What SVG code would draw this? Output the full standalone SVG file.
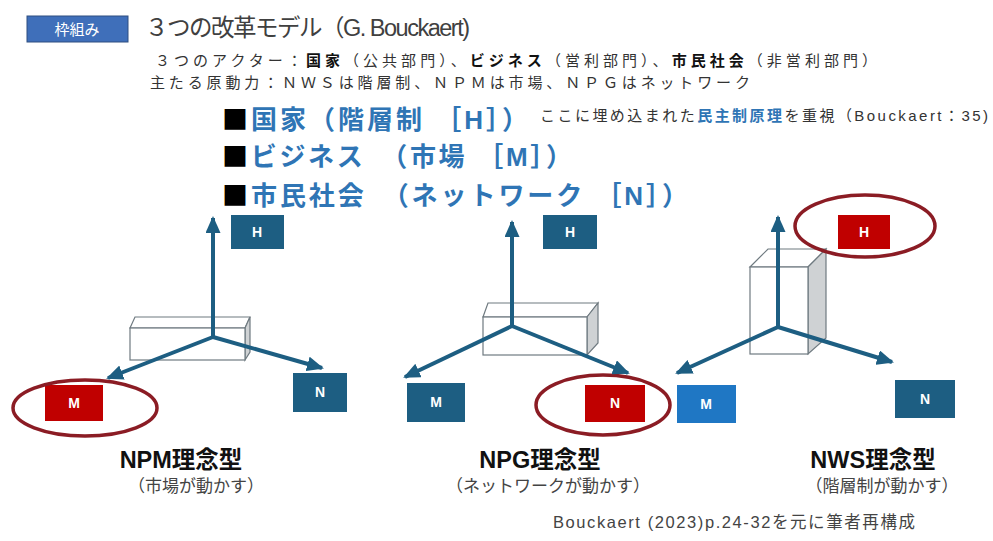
<svg xmlns="http://www.w3.org/2000/svg" width="993" height="541" viewBox="0 0 993 541">
<style>
.jp{font-family:"Liberation Sans","Noto Sans CJK JP",sans-serif}
.sq{font-family:"Noto Sans CJK JP",sans-serif;fill:#000}
.box{fill:#1d5e82}
.red{fill:#c00000}
.bl{font-family:"Liberation Sans","Noto Sans CJK JP",sans-serif;font-weight:bold;font-size:14px;fill:#fff;text-anchor:middle}
.ax{stroke:#1d5e82;stroke-width:4;fill:none;marker-end:url(#ah)}
.prism{fill:#fff;stroke:#6f7a80;stroke-width:1.2}
.side{fill:#cfd2d4;stroke:#6f7a80;stroke-width:1.2}
.ell{fill:none;stroke:#8b1c24;stroke-width:3.5}
.cap{font-family:"Liberation Sans","Noto Sans CJK JP",sans-serif;font-weight:bold;font-size:23.5px;fill:#111;text-anchor:middle}
.sub{font-family:"Liberation Sans","Noto Sans CJK JP",sans-serif;font-size:17px;fill:#444;text-anchor:middle}
.big{font-family:"Liberation Sans","Noto Sans CJK JP",sans-serif;font-weight:bold;font-size:26px;fill:#2f75b5}
</style>
<defs>
<marker id="ah" markerUnits="userSpaceOnUse" markerWidth="17" markerHeight="15" refX="15" refY="7.5" orient="auto">
<path d="M0,0 L17,7.5 L0,15 Z" fill="#1d5e82"/>
</marker>
</defs>
<rect width="993" height="541" fill="#fff"/>

<g id="header">
<rect x="27" y="16" width="101" height="26" fill="#3f6fba" stroke="#2f4f80" stroke-width="1"/>
<text x="77" y="35" class="jp" font-size="15" fill="#fff" text-anchor="middle">枠組み</text>
<text x="145" y="36" class="jp" font-size="23.5" fill="#404040" textLength="325" lengthAdjust="spacing">３つの改革モデル（G. Bouckaert)</text>
<text x="155" y="66" class="jp" font-size="15" fill="#333" textLength="722" lengthAdjust="spacing">３つのアクター：<tspan font-weight="bold" fill="#111">国家</tspan>（公共部門）、<tspan font-weight="bold" fill="#111">ビジネス</tspan>（営利部門）、<tspan font-weight="bold" fill="#111">市民社会</tspan>（非営利部門）</text>
<text x="150" y="88" class="jp" font-size="15" fill="#333" textLength="600" lengthAdjust="spacing">主たる原動力：ＮＷＳは階層制、ＮＰＭは市場、ＮＰＧはネットワーク</text>
</g>

<g id="bullets">
<text x="222" y="129" class="big" textLength="306" lengthAdjust="spacing"><tspan class="sq">■</tspan>国家（階層制 ［H］）</text>
<text x="540" y="121" class="jp" font-size="15" fill="#333" textLength="448" lengthAdjust="spacing">ここに埋め込まれた<tspan font-weight="bold" fill="#2f75b5">民主制原理</tspan>を重視（Bouckaert：35)</text>
<text x="222" y="166" class="big" textLength="350" lengthAdjust="spacing"><tspan class="sq">■</tspan>ビジネス　（市場 ［M］）</text>
<text x="222" y="205" class="big" textLength="466" lengthAdjust="spacing"><tspan class="sq">■</tspan>市民社会　（ネットワーク ［N］）</text>
</g>

<g id="npm">
<path class="prism" d="M130,328 L135,317 L250,317 L245,328 Z"/>
<path class="side" d="M245,328 L250,317 L250,352 L245,360 Z"/>
<rect class="prism" x="130" y="328" width="115" height="32"/>
<g id="npm-H"><rect class="box" x="231" y="215" width="53" height="34"/><text class="bl" x="257" y="237">H</text></g>
<g id="npm-M"><rect class="red" x="45" y="385" width="58" height="36"/><text class="bl" x="74" y="408">M</text></g>
<g id="npm-N"><rect class="box" x="293" y="373" width="54" height="39"/><text class="bl" x="320" y="397">N</text></g>
<ellipse class="ell" cx="85" cy="408" rx="72" ry="28"/>
<text class="cap" x="181" y="468">NPM理念型</text>
<text class="sub" x="196" y="492">（市場が動かす）</text>
</g>

<g id="npg">
<path class="prism" d="M483,317 L488,303 L598,303 L587,317 Z"/>
<path class="side" d="M587,317 L598,303 L598,343 L587,355 Z"/>
<rect class="prism" x="483" y="317" width="104" height="38"/>
<g id="npg-H"><rect class="box" x="543" y="215" width="54" height="34"/><text class="bl" x="570" y="237">H</text></g>
<g id="npg-M"><rect class="box" x="407" y="383" width="58" height="39"/><text class="bl" x="436" y="407">M</text></g>
<g id="npg-N"><rect class="red" x="585" y="385" width="60" height="37"/><text class="bl" x="615" y="408">N</text></g>
<ellipse class="ell" cx="603" cy="405" rx="67" ry="30"/>
<text class="cap" x="540" y="468">NPG理念型</text>
<text class="sub" x="548" y="492">（ネットワークが動かす）</text>
</g>

<g id="nws">
<path class="prism" d="M750,267 L768,249 L826,249 L808,267 Z"/>
<path class="side" d="M808,267 L826,249 L826,338 L808,354 Z"/>
<rect class="prism" x="750" y="267" width="58" height="87"/>
<g id="nws-H"><rect class="red" x="838" y="215" width="52" height="34"/><text class="bl" x="864" y="237">H</text></g>
<g id="nws-M"><rect fill="#1f77c4" x="677" y="385" width="59" height="38"/><text class="bl" x="706" y="409">M</text></g>
<g id="nws-N"><rect class="box" x="895" y="380" width="60" height="38"/><text class="bl" x="925" y="404">N</text></g>
<ellipse class="ell" cx="865" cy="226" rx="70" ry="31"/>
<text class="cap" x="873" y="468">NWS理念型</text>
<text class="sub" x="882" y="492">（階層制が動かす）</text>
</g>

<g id="connectors">
<path class="ax" d="M213,337 L213,218"/>
<path class="ax" d="M213,337 L108,378"/>
<path class="ax" d="M213,337 L322,368"/>
<path class="ax" d="M512,326 L512,222"/>
<path class="ax" d="M512,326 L405,377"/>
<path class="ax" d="M512,326 L628,373"/>
<path class="ax" d="M778,327 L778,217"/>
<path class="ax" d="M778,327 L677,373"/>
<path class="ax" d="M778,327 L892,362"/>
</g>

<text x="553" y="528" class="jp" font-size="16.5" fill="#444" textLength="362" lengthAdjust="spacing">Bouckaert (2023)p.24-32を元に筆者再構成</text>
</svg>
